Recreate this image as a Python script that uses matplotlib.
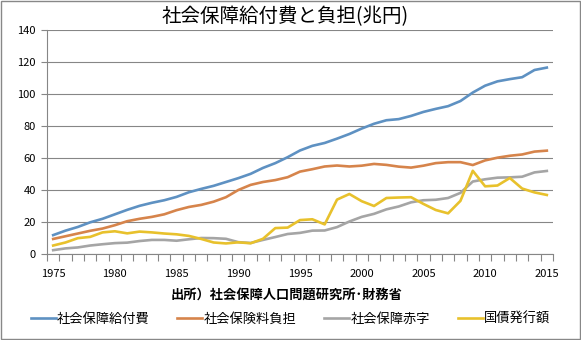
import numpy as np
import matplotlib
matplotlib.use("Agg")
import matplotlib.pyplot as plt
from matplotlib.patches import Rectangle
from matplotlib.ticker import MultipleLocator

plt.rcParams['font.family'] = ['Noto Sans CJK JP', 'DejaVu Sans']

years = list(range(1975, 2016))

# 社会保障給付費 (兆円)
benefit = [11.8, 14.6, 16.9, 19.8, 22.0, 24.8, 27.6, 30.1, 32.0, 33.6,
           35.7, 38.6, 40.7, 42.6, 45.0, 47.4, 50.1, 53.8, 56.8, 60.5,
           64.7, 67.6, 69.4, 72.1, 75.0, 78.4, 81.4, 83.6, 84.3, 86.3,
           88.8, 90.7, 92.4, 95.6, 100.9, 105.2, 107.9, 109.3, 110.5, 115.0,
           116.5]
# 社会保険料負担
contrib = [9.4, 11.1, 12.8, 14.5, 15.9, 18.0, 20.5, 22.0, 23.2, 24.8,
           27.4, 29.4, 30.7, 32.7, 35.5, 40.0, 43.2, 45.0, 46.2, 48.0,
           51.5, 53.0, 54.7, 55.3, 54.7, 55.2, 56.3, 55.7, 54.6, 54.0,
           55.2, 56.8, 57.4, 57.4, 55.6, 58.5, 60.2, 61.4, 62.2, 64.0,
           64.6]
# 社会保障赤字
deficit = [2.4, 3.5, 4.1, 5.3, 6.1, 6.8, 7.1, 8.1, 8.8, 8.8,
           8.3, 9.2, 10.0, 9.9, 9.5, 7.4, 6.9, 8.8, 10.6, 12.5,
           13.2, 14.6, 14.7, 16.8, 20.3, 23.2, 25.1, 27.9, 29.7, 32.3,
           33.6, 33.9, 35.0, 38.2, 45.3, 46.7, 47.7, 47.9, 48.3, 51.0,
           51.9]
# 国債発行額
bonds = [5.3, 7.2, 9.9, 10.7, 13.5, 14.2, 12.9, 14.0, 13.5, 12.8,
         12.3, 11.3, 9.4, 7.2, 6.6, 7.3, 6.7, 9.5, 16.2, 16.5,
         21.2, 21.7, 18.5, 34.0, 37.5, 33.0, 30.0, 35.0, 35.3, 35.5,
         31.3, 27.5, 25.4, 33.2, 52.0, 42.3, 42.8, 47.5, 40.9, 38.5,
         36.9]

series_names = ['社会保障給付費', '社会保険料負担', '社会保障赤字', '国債発行額']
colors = ['#5E91C2', '#D6844B', '#A5A5A5', '#E8C12C']

fig = plt.figure(figsize=(5.81, 3.40), dpi=100)
ax = fig.add_axes([47 / 581, 1 - 254 / 340, 506 / 581, 224 / 340])

for vals, name, c in zip([benefit, contrib, deficit, bonds], series_names, colors):
    ax.plot(years, vals, color=c, lw=1.9, label=name, solid_joinstyle='round')

ax.set_xlim(1974.5, 2015.5)
ax.set_ylim(0, 140)
ax.yaxis.set_major_locator(MultipleLocator(20))
ax.set_xticks(list(range(1975, 2016, 5)))
ax.set_xticks(np.arange(1974.5, 2016, 1), minor=True)
ax.tick_params(axis='x', which='major', length=0, pad=11, labelsize=8)
ax.tick_params(axis='x', which='minor', length=5, color='#868686', width=0.8)
ax.tick_params(axis='y', length=4, color='#868686', width=0.8, pad=4, labelsize=8)

ax.grid(axis='y', color='#868686', lw=0.8)
ax.set_axisbelow(True)
for s in ['top', 'right']:
    ax.spines[s].set_visible(False)
for s in ['left', 'bottom']:
    ax.spines[s].set_color('#868686')
    ax.spines[s].set_linewidth(0.8)

fig.text(0.49, 1 - 17 / 340, '社会保障給付費と負担(兆円)', ha='center', va='center', fontsize=14)
fig.text(287 / 581, 1 - 295 / 340, '出所）社会保障人口問題研究所･財務省', ha='center', va='center',
         fontsize=9.5, fontweight='bold')

fig.legend(loc='center', bbox_to_anchor=(0.5, 1 - 319 / 340), ncol=4, frameon=False,
           fontsize=9.5, handlelength=1.9, handletextpad=0.1, columnspacing=2.1)

fig.add_artist(Rectangle((0.001, 0.002), 0.997, 0.995, transform=fig.transFigure,
                         fill=False, edgecolor='#888888', lw=1))

fig.savefig('out.png', dpi=100)
